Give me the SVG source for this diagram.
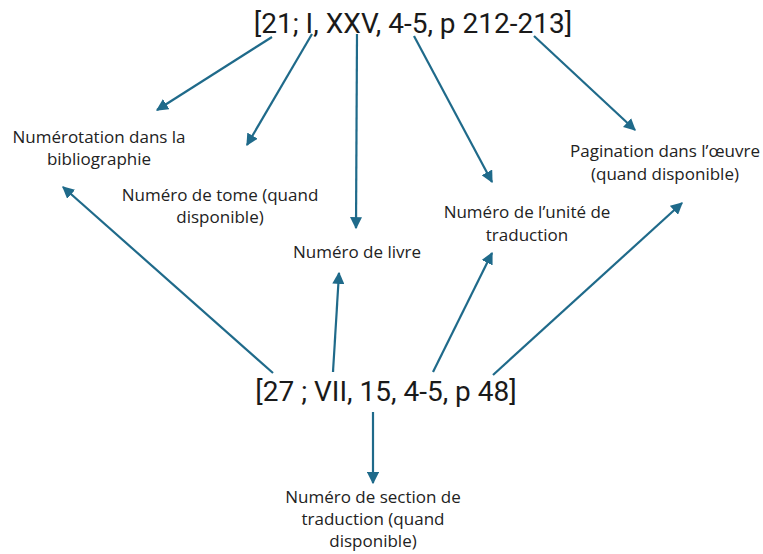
<svg xmlns="http://www.w3.org/2000/svg" width="763" height="554" viewBox="0 0 763 554">
<style>
.ref{font-family:Roboto,"Liberation Sans",sans-serif;font-size:28px;fill:#1a1a1a;text-anchor:middle}
.lbl{font-family:"Open Sans","Noto Sans",sans-serif;font-size:17px;fill:#222;text-anchor:middle}
.con line{stroke:#1f6a8a;stroke-width:2.2;marker-end:url(#ah)}
</style>
<defs>
<marker id="ah" viewBox="0 0 10 10" refX="9" refY="5" markerWidth="5.5" markerHeight="5.5" orient="auto" markerUnits="strokeWidth">
<path d="M0,0 L10,5 L0,10 z" fill="#1f6a8a"/>
</marker>
</defs>
<rect width="763" height="554" fill="#fff"/>
<g id="top"><text class="ref" x="413" y="33">[21; I, XXV, 4-5, p 212-213]</text></g>
<g id="bottom"><text class="ref" x="386" y="401">[27 ; VII, 15, 4-5, p 48]</text></g>
<g id="n1"><text class="lbl" x="99" y="143">Numérotation dans la</text><text class="lbl" x="99" y="165">bibliographie</text></g>
<g id="n2"><text class="lbl" x="220" y="201">Numéro de tome (quand</text><text class="lbl" x="220" y="223">disponible)</text></g>
<g id="n3"><text class="lbl" x="357" y="258">Numéro de livre</text></g>
<g id="n4"><text class="lbl" x="527" y="218">Numéro de l’unité de</text><text class="lbl" x="527" y="241">traduction</text></g>
<g id="n5"><text class="lbl" x="665" y="157">Pagination dans l’œuvre</text><text class="lbl" x="665" y="180">(quand disponible)</text></g>
<g id="n6"><text class="lbl" x="373" y="503">Numéro de section de</text><text class="lbl" x="373" y="525">traduction (quand</text><text class="lbl" x="373" y="547">disponible)</text></g>
<g id="connectors" class="con">
<line x1="272" y1="37" x2="157" y2="110"/>
<line x1="312" y1="34" x2="247" y2="145"/>
<line x1="357" y1="34" x2="356" y2="228"/>
<line x1="414" y1="36" x2="492" y2="182"/>
<line x1="534" y1="36" x2="635" y2="130"/>
<line x1="273" y1="373" x2="63" y2="187"/>
<line x1="333" y1="372" x2="339" y2="273"/>
<line x1="433" y1="372" x2="492" y2="253"/>
<line x1="493" y1="375" x2="682" y2="203"/>
<line x1="373" y1="412" x2="373" y2="483"/>
</g>
</svg>
